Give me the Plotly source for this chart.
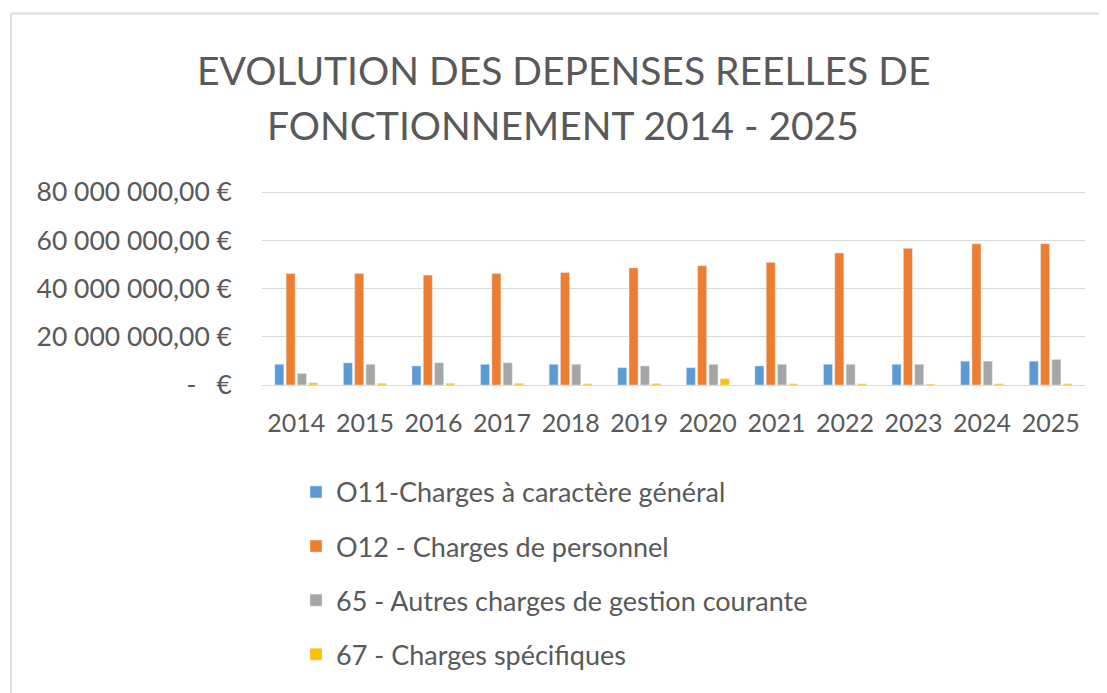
import plotly.graph_objects as go

years = ["2014", "2015", "2016", "2017", "2018", "2019", "2020", "2021", "2022", "2023", "2024", "2025"]
s011 = [8.6e6, 9.2e6, 7.9e6, 8.6e6, 8.6e6, 7.2e6, 7.2e6, 7.9e6, 8.6e6, 8.6e6, 9.9e6, 9.9e6]
s012 = [46.3e6, 46.3e6, 45.6e6, 46.3e6, 46.7e6, 48.6e6, 49.5e6, 50.9e6, 54.8e6, 56.7e6, 58.6e6, 58.6e6]
s65 = [4.8e6, 8.6e6, 9.2e6, 9.2e6, 8.6e6, 7.9e6, 8.6e6, 8.6e6, 8.6e6, 8.6e6, 9.9e6, 10.6e6]
s67 = [0.9e6, 0.7e6, 0.7e6, 0.7e6, 0.5e6, 0.6e6, 2.6e6, 0.5e6, 0.5e6, 0.4e6, 0.5e6, 0.5e6]
names = ["O11-Charges à caractère général", "O12 - Charges de personnel",
         "65 - Autres charges de gestion courante", "67 - Charges spécifiques"]
colors = ["#5B9BD5", "#ED7D31", "#A5A5A5", "#FFC000"]
y_ticks = [0, 20e6, 40e6, 60e6, 80e6]
y_labels = ["-   €", "20 000 000,00 €", "40 000 000,00 €", "60 000 000,00 €", "80 000 000,00 €"]
title_lines = ["EVOLUTION DES DEPENSES REELLES DE", "FONCTIONNEMENT 2014 - 2025"]

FONT = "Lato, 'Open Sans', sans-serif"
TXT = "#595959"

OFF = 8  # default page body margin
W, H = 1107 - OFF, 693 - OFF
# target screen positions of the plot area
SX0, SX1 = 262, 1085
SY_ZERO, SY_80 = 385, 192
YMAX = 80.5e6
ppu = (SY_ZERO - SY_80) / 80e6
SY_TOP = SY_ZERO - YMAX * ppu

L = SX0 - OFF
R = W - (SX1 - OFF)
T = SY_TOP - OFF
B = H - (SY_ZERO - OFF)
PW, PH = W - L - R, H - T - B

def px(sx):
    return (sx - OFF - L) / PW

def py(sy):
    return 1 - (sy - OFF - T) / PH

fig = go.Figure()
for i, (vals, nm, col) in enumerate(zip([s011, s012, s65, s67], names, colors)):
    fig.add_trace(go.Bar(x=years, y=vals, name=nm, marker_color=col,
                         legendgroup=f"g{i}"))

annotations = []
for line, yc in zip(title_lines, [70, 125]):
    annotations.append(dict(text=line, x=px(563), y=py(yc), xref="paper", yref="paper",
                            xanchor="center", yanchor="middle", showarrow=False,
                            font=dict(family=FONT, size=39, color=TXT)))

shapes = [
    dict(type="line", xref="paper", yref="paper", x0=px(11), x1=px(1110), y0=py(13), y1=py(13),
         line=dict(color="#DCDCDC", width=2)),
    dict(type="line", xref="paper", yref="paper", x0=px(11), x1=px(11), y0=py(13), y1=py(700),
         line=dict(color="#DCDCDC", width=2)),
]

fig.update_layout(
    width=W, height=H,
    margin=dict(l=L, r=R, t=T, b=B, autoexpand=False),
    paper_bgcolor="white", plot_bgcolor="white",
    barmode="group", bargap=0.34, bargroupgap=0.2,
    font=dict(family=FONT, color=TXT),
    annotations=annotations, shapes=shapes,
    showlegend=True,
    legend=dict(x=px(296), y=py(468), xanchor="left", yanchor="top",
                orientation="v", font=dict(family=FONT, size=27, color=TXT),
                tracegroupgap=16, bgcolor="rgba(0,0,0,0)"),
)
fig.update_yaxes(range=[0, YMAX], tickvals=y_ticks, ticktext=y_labels, automargin=False,
                 showgrid=True, gridcolor="#D9D9D9", gridwidth=1, zeroline=False,
                 showline=False, ticks="", ticklabelstandoff=29,
                 tickfont=dict(family=FONT, size=26.5, color=TXT))
fig.update_xaxes(showline=True, linecolor="#D9D9D9", linewidth=1, ticks="", automargin=False,
                 ticklabelstandoff=16, tickfont=dict(family=FONT, size=25, color=TXT))

fig.write_html("out.html")
